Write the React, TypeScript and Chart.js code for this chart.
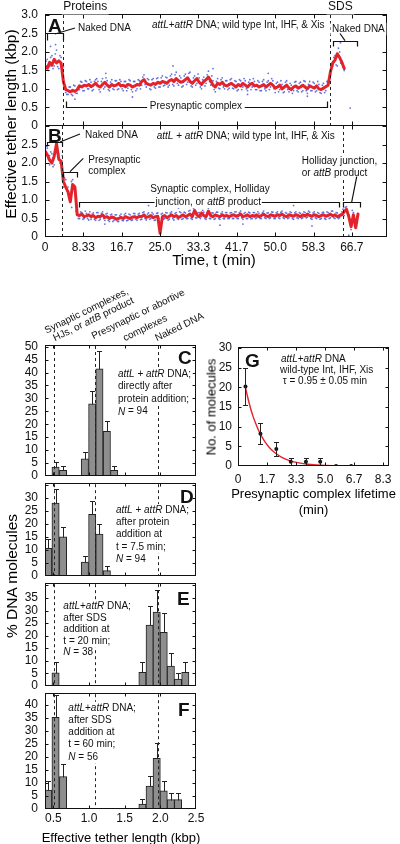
import React, { useEffect, useRef } from "react";
import { Chart, registerables } from "chart.js";
Chart.register(...registerables);

const FONT = '"Liberation Sans", Arial, Helvetica, sans-serif';
const INK = "#111";
const RED = "#e3232b";
const BLUE = "rgba(70, 90, 215, 0.85)";
const BAR = "#8e8e8e";
Chart.defaults.font.family = FONT;
Chart.defaults.color = INK;

// ================= Panels A & B : tether length traces =================
const traceStepMin = 0.5; // red trace & blueA2/blueB2 sampled every 0.5 min from t = 0
const blueOffsetMin = 0.25; // blueA1/blueB1 sampled every 0.5 min from t = 0.25

const redA = [
  1.62, 1.56, 1.72, 1.64, 1.8, 1.7, 1.76, 1.7, 1.2, 0.98,
  0.95, 0.92, 0.96, 0.93, 0.98, 1.08, 1.05, 1.1, 1.08, 1.12,
  1.06, 1.1, 1.15, 1.08, 1.05, 1.12, 1.18, 1.1, 1.05, 1.12,
  1.08, 1.1, 1.15, 1.08, 1.1, 1.06, 1.12, 1.1, 1.05, 1.08,
  1.12, 1.1, 1.2, 1.25, 1.15, 1.12, 1.1, 1.15, 1.12, 1.18,
  1.15, 1.2, 1.18, 1.15, 1.22, 1.25, 1.2, 1.28, 1.22, 1.18,
  1.2, 1.25, 1.3, 1.2, 1.15, 1.22, 1.28, 1.18, 1.12, 1.2,
  1.25, 1.32, 1.22, 1.1, 1.05, 1.15, 1.12, 1.18, 1.1, 1.08,
  1.12, 1.15, 1.1, 1.05, 1.12, 1.08, 1.15, 1.1, 1.05, 1.12,
  1.15, 1.08, 1.1, 1.05, 1.08, 1.12, 1.05, 1.1, 1.15, 1.1,
  1.02, 1.05, 1.1, 1.0, 1.05, 1.1, 1.02, 0.98, 1.05, 1.08,
  1.02, 1.05, 1.1, 1.05, 1.0, 1.08, 1.05, 1.02, 1.08, 1.0,
  0.98, 1.02, 1.06, 1.1, 1.45, 1.7, 1.78, 1.95, 1.85, 1.72, 1.55,
];
const blueA1 = [
  1.75, 1.5, 1.85, 1.55, 1.95, 1.6, 1.9, 1.55, 1.1, 0.85,
  1.05, 0.85, 1.1, 0.88, 1.05, 1.2, 0.95, 1.22, 1.0, 1.25,
  0.95, 1.2, 1.28, 0.98, 1.2, 1.0, 1.3, 0.98, 1.18, 1.0,
  1.22, 0.98, 1.25, 1.0, 1.2, 0.95, 1.25, 0.98, 1.2, 0.95,
  1.25, 1.0, 1.32, 1.12, 1.28, 1.0, 1.25, 1.05, 1.28, 1.05,
  1.3, 1.08, 1.32, 1.05, 1.35, 1.12, 1.38, 1.15, 1.35, 1.05,
  1.35, 1.12, 1.42, 1.08, 1.3, 1.1, 1.4, 1.05, 1.25, 1.08,
  1.38, 1.2, 1.35, 0.98, 1.2, 1.02, 1.25, 1.05, 1.22, 0.98,
  1.25, 1.02, 1.22, 0.95, 1.25, 0.98, 1.28, 1.0, 1.18, 0.98,
  1.28, 0.98, 1.22, 0.95, 1.2, 1.0, 1.18, 0.98, 1.28, 1.0,
  1.15, 0.92, 1.22, 0.9, 1.18, 0.98, 1.15, 0.88, 1.18, 0.95,
  1.15, 0.92, 1.22, 0.95, 1.12, 0.95, 1.18, 0.92, 1.2, 0.9,
  1.1, 0.9, 1.2, 1.25, 1.6, 1.85, 1.65, 2.1, 1.7, 1.6,
];
const blueA2 = [
  1.5, 1.8, 1.6, 1.9, 1.62, 2.05, 1.55, 1.85, 1.6, 0.9,
  0.85, 1.05, 0.82, 1.08, 0.88, 0.98, 1.18, 0.95, 1.2, 1.0,
  1.18, 0.98, 1.25, 1.2, 0.92, 1.28, 1.05, 1.22, 0.95, 1.25,
  0.98, 1.22, 1.0, 1.2, 0.95, 1.2, 1.02, 1.22, 0.92, 1.2,
  1.0, 1.22, 1.1, 1.38, 1.05, 1.25, 0.98, 1.28, 1.02, 1.3,
  1.05, 1.35, 1.1, 1.3, 1.1, 1.4, 1.08, 1.45, 1.1, 1.3,
  1.08, 1.4, 1.18, 1.45, 1.05, 1.35, 1.15, 1.3, 1.0, 1.32,
  1.15, 1.48, 1.1, 1.22, 0.92, 1.28, 1.0, 1.3, 1.0, 1.22,
  1.02, 1.28, 1.0, 1.2, 0.98, 1.22, 1.05, 1.22, 0.95, 1.25,
  1.05, 1.2, 0.98, 1.18, 0.95, 1.25, 0.95, 1.22, 1.05, 1.22,
  0.9, 1.18, 0.98, 1.12, 0.92, 1.22, 0.92, 1.1, 0.95, 1.2,
  0.92, 1.18, 0.95, 1.2, 0.88, 1.2, 0.95, 1.15, 0.95, 1.12,
  0.88, 1.15, 0.95, 1.2, 1.3, 1.62, 1.9, 1.62, 2.0, 1.75, 1.5,
];
const outlierTimesA = [1.2, 2.3, 6.5, 13.2, 19.0, 27.8, 36.5, 44.0, 48.5, 57.0, 64.2, 66.3];
const outlierValuesA = [2.15, 2.2, 0.72, 1.42, 0.78, 1.62, 1.55, 0.85, 1.42, 0.8, 2.25, 0.48];

const redB = [
  2.32, 2.22, 2.08, 2.0, 2.18, 2.52, 2.1, 2.05, 1.5, 1.35,
  1.22, 0.95, 1.42, 1.35, 0.6, 0.58, 0.62, 0.55, 0.57, 0.6,
  0.55, 0.58, 0.52, 0.56, 0.55, 0.6, 0.53, 0.55, 0.5, 0.54,
  0.52, 0.48, 0.5, 0.53, 0.5, 0.55, 0.52, 0.5, 0.54, 0.55,
  0.52, 0.56, 0.55, 0.6, 0.53, 0.55, 0.58, 0.52, 0.55, 0.56,
  0.1, 0.55, 0.58, 0.52, 0.56, 0.6, 0.55, 0.58, 0.53, 0.56,
  0.6, 0.55, 0.58, 0.62, 0.55, 0.72, 0.6, 0.55, 0.65, 0.58,
  0.55, 0.7, 0.58, 0.55, 0.6, 0.57, 0.55, 0.6, 0.56, 0.58,
  0.55, 0.58, 0.6, 0.56, 0.58, 0.62, 0.55, 0.57, 0.6, 0.55,
  0.58, 0.56, 0.6, 0.55, 0.58, 0.62, 0.57, 0.55, 0.6, 0.58,
  0.56, 0.6, 0.58, 0.62, 0.57, 0.55, 0.6, 0.58, 0.56, 0.6,
  0.58, 0.55, 0.6, 0.57, 0.62, 0.58, 0.56, 0.6, 0.58, 0.55,
  0.58, 0.6, 0.56, 0.58, 0.62, 0.57, 0.6, 0.55, 0.58, 0.6,
  0.68, 0.75, 0.55, 0.28, 0.6, 0.25, 0.62,
];
const blueB1 = [
  2.45, 2.1, 2.3, 1.9, 2.35, 2.3, 2.0, 2.2, 1.6, 1.25,
  1.15, 1.5, 1.3, 0.7, 0.5, 0.68, 0.48, 0.7, 0.5, 0.68,
  0.62, 0.48, 0.66, 0.45, 0.64, 0.5, 0.62, 0.45, 0.6, 0.42,
  0.6, 0.42, 0.58, 0.45, 0.6, 0.44, 0.62, 0.45, 0.64, 0.48,
  0.62, 0.47, 0.66, 0.5, 0.62, 0.48, 0.66, 0.45, 0.64, 0.5,
  0.62, 0.48, 0.66, 0.46, 0.65, 0.5, 0.64, 0.5, 0.68, 0.48,
  0.67, 0.5, 0.7, 0.5, 0.78, 0.52, 0.66, 0.5, 0.72, 0.5,
  0.66, 0.5, 0.65, 0.48, 0.67, 0.5, 0.64, 0.5, 0.66, 0.5,
  0.65, 0.5, 0.68, 0.5, 0.66, 0.52, 0.64, 0.5, 0.67, 0.49,
  0.66, 0.5, 0.68, 0.5, 0.66, 0.52, 0.65, 0.5, 0.68, 0.5,
  0.65, 0.52, 0.67, 0.52, 0.66, 0.5, 0.68, 0.5, 0.65, 0.52,
  0.66, 0.5, 0.68, 0.52, 0.7, 0.5, 0.65, 0.52, 0.66, 0.48,
  0.66, 0.5, 0.68, 0.5, 0.7, 0.52, 0.66, 0.5, 0.62, 0.75, 0.8, 0.65, 0.35, 0.72, 0.3,
];
const blueB2 = [
  2.15, 2.4, 2.2, 2.25, 1.95, 2.6, 2.25, 1.95, 1.35, 1.55,
  1.35, 1.05, 1.55, 1.25, 0.68, 0.5, 0.66, 0.5, 0.64, 0.46,
  0.48, 0.65, 0.45, 0.66, 0.48, 0.68, 0.45, 0.64, 0.42, 0.62,
  0.45, 0.6, 0.42, 0.62, 0.44, 0.64, 0.45, 0.6, 0.46, 0.63,
  0.45, 0.64, 0.48, 0.68, 0.46, 0.65, 0.5, 0.62, 0.46, 0.65,
  0.3, 0.64, 0.5, 0.65, 0.48, 0.68, 0.46, 0.66, 0.48, 0.66,
  0.5, 0.65, 0.5, 0.72, 0.48, 0.82, 0.52, 0.66, 0.55, 0.67,
  0.48, 0.78, 0.5, 0.65, 0.5, 0.67, 0.48, 0.68, 0.49, 0.66,
  0.5, 0.66, 0.5, 0.68, 0.5, 0.7, 0.48, 0.66, 0.5, 0.65,
  0.5, 0.66, 0.52, 0.64, 0.5, 0.7, 0.5, 0.65, 0.52, 0.67,
  0.5, 0.68, 0.5, 0.7, 0.5, 0.64, 0.52, 0.66, 0.48, 0.68,
  0.5, 0.64, 0.52, 0.66, 0.54, 0.67, 0.48, 0.68, 0.5, 0.64,
  0.5, 0.67, 0.48, 0.66, 0.52, 0.7, 0.5, 0.65, 0.52, 0.68, 0.58, 0.82, 0.6, 0.2, 0.66, 0.3,
];
const outlierTimesB = [1.0, 2.8, 5.8, 13.0, 22.5, 29.0, 38.0, 43.0, 47.0, 54.0, 58.0, 66.0];
const outlierValuesB = [1.95, 2.7, 0.8, 0.35, 0.85, 0.78, 0.32, 0.35, 0.82, 0.85, 0.3, 0.05];

const eventTimesA = [3.85, 62.0]; // proteins added, SDS added
const eventTimesB = [3.63, 64.8];
const timeMax = 74.3;
const timeTicks = [0, 8.333, 16.667, 25, 33.333, 41.667, 50, 58.333, 66.667];
const timeTickLabels = ["0", "8.33", "16.7", "25.0", "33.3", "41.7", "50.0", "58.3", "66.7"];
const tetherTicks = [0, 0.5, 1, 1.5, 2, 2.5, 3];
const tetherTickLabels = ["0", "0.5", "1.0", "1.5", "2.0", "2.5", "3.0"];
const tetherTickLabelsB = ["0", "0.5", "1.0", "1.5", "2.0", "2.5", ""];

// ================= Panels C–F : histograms =================
const binsC = [0.531, 0.636, 0.942, 1.045, 1.146, 1.25, 1.353];
const pctC = [3.4, 2.1, 6.6, 27.9, 41.5, 17.2, 2.1];
const errC = [1.9, 1.6, 2.6, 5.1, 6.7, 4.0, 1.6];

const binsD = [0.428, 0.531, 0.636, 0.942, 1.045, 1.146, 1.25];
const pctD = [10.6, 27.9, 15.0, 5.3, 23.6, 16.0, 2.0];
const errD = [3.6, 5.4, 3.7, 2.2, 5.1, 4.0, 1.8];

const binsE = [0.531, 1.749, 1.85, 1.949, 2.047, 2.147, 2.248, 2.35];
const pctE = [5.2, 5.4, 24.2, 29.4, 21.3, 7.9, 2.7, 5.4];
const errE = [4.3, 4.1, 7.6, 8.6, 7.7, 5.0, 2.5, 4.1];

const binsF = [0.428, 0.531, 0.636, 1.749, 1.85, 1.949, 2.047, 2.147, 2.248];
const pctF = [7.3, 35.3, 12.5, 1.9, 8.8, 19.5, 7.0, 3.6, 3.6];
const errF = [3.3, 8.7, 4.8, 1.8, 4.0, 6.0, 3.6, 2.4, 2.4];

const stateLengths = [0.513, 1.084, 1.963]; // synaptic, presynaptic, naked DNA
const kbpMin = 0.383;
const kbpMax = 2.5;
const kbpTicks = [0.5, 1.0, 1.5, 2.0, 2.5];
const kbpTickLabels = ["0.5", "1.0", "1.5", "2.0", "2.5"];
const pctTicks = [0, 5, 10, 15, 20, 25, 30, 35, 40, 45, 50];

// ================= Panel G : lifetime distribution =================
const lifetimeBins = [0.43, 1.29, 2.2, 3.03, 3.9, 4.72, 5.63, 6.5];
const lifetimeCounts = [20.2, 8.2, 4.3, 1.1, 1.1, 1.1, 0, 0];
const lifetimeErr = [4.6, 2.7, 1.7, 0.9, 0.9, 0.9, 0, 0];
const fitTimes = [0.43, 0.55, 0.7, 0.85, 1.0, 1.2, 1.4, 1.6, 1.8, 2.0, 2.3, 2.6, 3.0, 3.5, 4.0, 4.5, 5.0, 5.5, 6.0, 6.5];
const fitCounts = [20.0, 17.6, 15.0, 12.8, 11.0, 8.9, 7.2, 5.8, 4.7, 3.8, 2.8, 2.0, 1.3, 0.8, 0.46, 0.28, 0.16, 0.1, 0.06, 0.03];
const lifeTicks = [0, 1.667, 3.333, 5, 6.667, 8.333];
const lifeTickLabels = ["0", "1.7", "3.3", "5.0", "6.7", "8.3"];
const countTicks = [0, 5, 10, 15, 20, 25, 30];

// ================= helpers =================
type Run = [string, boolean?];
type Ann =
  | { k: "text"; x: number; y: number; runs: Run[]; size?: number; bold?: boolean; align?: string; baseline?: string; dy?: number; angle?: number }
  | { k: "line"; x1: number; y1: number; x2: number; y2: number }
  | { k: "bracket"; x1: number; x2: number; y: number; y2: number; gap?: number[] };

const txt = (x: number, y: number, runs: Run[], o: any = {}): Ann => ({ k: "text", x, y, runs, ...o });
const ln = (x1: number, y1: number, x2: number, y2: number): Ann => ({ k: "line", x1, y1, x2, y2 });
const br = (x1: number, x2: number, y: number, y2: number, gap?: number[]): Ann => ({ k: "bracket", x1, x2, y, y2, gap });
const block = (x: number, y: number, lh: number, lines: Run[][]): Ann[] =>
  lines.map((runs, i) => txt(x, y, runs, { dy: i * lh }));

function drawRich(ctx: any, a: any, x: number, y: number) {
  const size = a.size ?? 10;
  const fonts = a.runs.map((r: Run) => `${r[1] ? "italic " : ""}${a.bold ? "bold " : ""}${size}px ${FONT}`);
  const widths = a.runs.map((r: Run, i: number) => {
    ctx.font = fonts[i];
    return ctx.measureText(r[0]).width;
  });
  const total = widths.reduce((s: number, w: number) => s + w, 0);
  ctx.save();
  ctx.translate(x, y);
  if (a.angle) ctx.rotate((a.angle * Math.PI) / 180);
  ctx.textAlign = "left";
  const baseline = a.baseline ?? "middle";
  ctx.textBaseline = baseline;
  let cx = a.align === "center" ? -total / 2 : 0;
  if (baseline === "middle" && !a.angle) {
    // text sits on a white label box, which hides dashed guides behind it
    ctx.save();
    ctx.fillStyle = "#fff";
    ctx.fillRect(cx - 1.5, -size * 0.62, total + 3, size * 1.24);
    ctx.restore();
  }
  a.runs.forEach((r: Run, i: number) => {
    ctx.font = fonts[i];
    ctx.fillText(r[0], cx, 0);
    cx += widths[i];
  });
  ctx.restore();
}

function overlayPlugin(anns: Ann[]) {
  return {
    id: "overlay",
    afterDraw(chart: any) {
      const ctx = chart.ctx;
      const xs = chart.scales.x, ys = chart.scales.y;
      const X = (v: number) => xs.getPixelForValue(v);
      const Y = (v: number) => ys.getPixelForValue(v);
      ctx.save();
      ctx.strokeStyle = INK;
      ctx.fillStyle = INK;
      ctx.lineWidth = 1.2;
      for (const a of anns as any[]) {
        if (a.k === "line") {
          ctx.beginPath();
          ctx.moveTo(X(a.x1), Y(a.y1));
          ctx.lineTo(X(a.x2), Y(a.y2));
          ctx.stroke();
        } else if (a.k === "bracket") {
          const x1 = Math.round(X(a.x1)) + 0.5, x2 = Math.round(X(a.x2)) + 0.5;
          const y = Math.round(Y(a.y)) + 0.5, y2 = Math.round(Y(a.y2)) + 0.5;
          ctx.beginPath();
          ctx.moveTo(x1, y2);
          ctx.lineTo(x1, y);
          if (a.gap) {
            ctx.lineTo(X(a.gap[0]), y);
            ctx.moveTo(X(a.gap[1]), y);
          }
          ctx.lineTo(x2, y);
          ctx.lineTo(x2, y2);
          ctx.stroke();
        } else {
          drawRich(ctx, a, X(a.x), Y(a.y) + (a.dy || 0));
        }
      }
      ctx.restore();
    },
  };
}

function framePlugin(tickLen = 4) {
  return {
    id: "frame",
    afterDraw(chart: any) {
      const { ctx, chartArea: a } = chart;
      const xs = chart.scales.x, ys = chart.scales.y;
      const L = Math.round(a.left) + 0.5, R = Math.round(a.right) - 0.5;
      const T = Math.round(a.top) - 0.5, B = Math.round(a.bottom) - 0.5;
      ctx.save();
      ctx.strokeStyle = INK;
      ctx.lineWidth = 1;
      ctx.strokeRect(L, T, R - L, B - T);
      ctx.beginPath();
      for (const t of xs.ticks) {
        const p = Math.round(xs.getPixelForValue(t.value)) + 0.5;
        if (p < L + 1 || p > R - 1) continue;
        ctx.moveTo(p, B); ctx.lineTo(p, B - tickLen);
        ctx.moveTo(p, T); ctx.lineTo(p, T + tickLen);
      }
      for (const t of ys.ticks) {
        const p = Math.round(ys.getPixelForValue(t.value)) + 0.5;
        if (p < T + 1 || p > B - 1) continue;
        ctx.moveTo(L, p); ctx.lineTo(L + tickLen, p);
        ctx.moveTo(R, p); ctx.lineTo(R - tickLen, p);
      }
      ctx.stroke();
      ctx.restore();
    },
  };
}

function vlinePlugin(values: number[]) {
  return {
    id: "vlines",
    afterDatasetsDraw(chart: any) {
      const { ctx, chartArea: a } = chart;
      const xs = chart.scales.x;
      ctx.save();
      ctx.strokeStyle = "#222";
      ctx.lineWidth = 1;
      ctx.setLineDash([3, 3]);
      ctx.beginPath();
      for (const v of values) {
        const p = Math.round(xs.getPixelForValue(v)) + 0.5;
        ctx.moveTo(p, a.top);
        ctx.lineTo(p, a.bottom);
      }
      ctx.stroke();
      ctx.restore();
    },
  };
}

function errorPlugin(xv: number[], yv: number[], ev: number[], symmetric: boolean, cap: number) {
  return {
    id: "errbars",
    afterDatasetsDraw(chart: any) {
      const { ctx, chartArea: a } = chart;
      const xs = chart.scales.x, ys = chart.scales.y;
      ctx.save();
      ctx.beginPath();
      ctx.rect(a.left, a.top, a.right - a.left, a.bottom - a.top);
      ctx.clip();
      ctx.strokeStyle = "#222";
      ctx.lineWidth = 1;
      ctx.beginPath();
      xv.forEach((x, i) => {
        const e = ev[i];
        if (!e) return;
        const px = Math.round(xs.getPixelForValue(x)) + 0.5;
        const top = Math.round(ys.getPixelForValue(yv[i] + e)) + 0.5;
        const bot = Math.round(ys.getPixelForValue(symmetric ? yv[i] - e : yv[i])) + 0.5;
        ctx.moveTo(px, bot);
        ctx.lineTo(px, top);
        ctx.moveTo(px - cap, top);
        ctx.lineTo(px + cap, top);
        if (symmetric) {
          ctx.moveTo(px - cap, bot);
          ctx.lineTo(px + cap, bot);
        }
      });
      ctx.stroke();
      ctx.restore();
    },
  };
}

function axis(o: { min: number; max: number; ticks: number[]; labels: string[] | null; size: number; horizontal: boolean; pad: number }) {
  return {
    type: "linear",
    position: o.horizontal ? "bottom" : "left",
    min: o.min,
    max: o.max,
    bounds: "data",
    grid: { display: false, drawTicks: false },
    border: { display: false },
    afterBuildTicks: (s: any) => {
      s.ticks = o.ticks.map((v) => ({ value: v }));
    },
    afterFit: (s: any) => {
      if (o.horizontal) s.height = o.size;
      else s.width = o.size;
    },
    ticks: {
      display: !!o.labels,
      padding: o.pad,
      autoSkip: false,
      maxRotation: 0,
      color: INK,
      font: { size: 12, family: FONT },
      callback: (_v: any, i: number) => (o.labels ? o.labels[i] : ""),
    },
  };
}

const common = {
  animation: false,
  responsive: false,
  devicePixelRatio: 1,
  events: [],
  plugins: { legend: { display: false }, tooltip: { enabled: false } },
};

const pts = (xs: number[], ys: number[]) => xs.map((x, i) => ({ x, y: ys[i] }));
const grid = (vals: number[], offset: number) => vals.map((v, i) => ({ x: offset + i * traceStepMin, y: v }));
const dots = (data: any[]) => ({
  data,
  showLine: false,
  pointRadius: 0.9,
  pointBackgroundColor: BLUE,
  pointBorderWidth: 0,
});

function traceConfig(red: number[], b1: number[], b2: number[], ot: number[], ov: number[], events: number[], pad: any, xH: number, showX: boolean, yLabels: string[], anns: Ann[]) {
  return {
    type: "line",
    data: {
      datasets: [
        { data: grid(red, 0), borderColor: RED, borderWidth: 3, pointRadius: 0, tension: 0, borderJoinStyle: "round", borderCapStyle: "round" },
        dots(grid(b1, blueOffsetMin)),
        dots(grid(b2, 0)),
        dots(pts(ot, ov)),
      ],
    },
    options: {
      ...common,
      layout: { padding: pad },
      scales: {
        x: axis({ min: 0, max: timeMax, ticks: timeTicks, labels: showX ? timeTickLabels : null, size: xH, horizontal: true, pad: 3 }),
        y: axis({ min: 0, max: 3, ticks: tetherTicks, labels: yLabels, size: 45, horizontal: false, pad: 7 }),
      },
    },
    plugins: [vlinePlugin(events), framePlugin(), overlayPlugin(anns)],
  };
}

function histConfig(bins: number[], pct: number[], err: number[], yMax: number, hideTop: boolean, pad: any, xH: number, showX: boolean, anns: Ann[]) {
  const ticks = pctTicks.filter((v) => v <= yMax);
  const labels = ticks.map((v, i) => (hideTop && i === ticks.length - 1 ? "" : String(v)));
  return {
    type: "bar",
    data: {
      datasets: [
        {
          data: pts(bins, pct),
          backgroundColor: BAR,
          borderColor: "#222",
          borderWidth: 1,
          barThickness: 7.3,
        },
      ],
    },
    options: {
      ...common,
      layout: { padding: pad },
      scales: {
        x: { ...axis({ min: kbpMin, max: kbpMax, ticks: kbpTicks, labels: showX ? kbpTickLabels : null, size: xH, horizontal: true, pad: 2 }), offset: false },
        y: axis({ min: 0, max: yMax, ticks, labels, size: 45, horizontal: false, pad: 7 }),
      },
    },
    plugins: [errorPlugin(bins, pct, err, false, 2.5), vlinePlugin(stateLengths), framePlugin(3), overlayPlugin(anns)],
  };
}

// ================= annotations (data coordinates) =================
const attLR = (spaced: boolean, rest: string): Run[] => [["attL", true], [spaced ? " + " : "+"], ["attR", true], [rest]];

const annA: Ann[] = [
  txt(3.95, 3.216, [["Proteins"]], { size: 12 }),
  txt(61.5, 3.216, [["SDS"]], { size: 12 }),
  txt(0.65, 2.55, [["A"]], { size: 19, bold: true, baseline: "alphabetic" }),
  br(0.37, 3.85, 2.5, 2.324),
  ln(2.17, 2.486, 6.52, 2.649),
  txt(7.17, 2.64, [["Naked DNA"]]),
  txt(23.25, 2.73, attLR(false, " DNA; wild type Int, IHF, & Xis")),
  txt(62.35, 2.62, [["Naked DNA"]]),
  br(62.5, 67.7, 2.305, 2.149),
  ln(65.17, 2.305, 64.09, 2.5),
  br(4.56, 61.2, 0.522, 0.662, [22.2, 43.4]),
  txt(32.8, 0.522, [["Presynaptic complex"]], { align: "center" }),
];

const annB: Ann[] = [
  txt(0.65, 2.57, [["B"]], { size: 19, bold: true, baseline: "alphabetic" }),
  br(0.37, 3.63, 2.576, 2.459),
  ln(3.26, 2.568, 7.6, 2.784),
  txt(8.69, 2.757, [["Naked DNA"]]),
  txt(24.27, 2.711, attLR(true, " DNA; wild type Int, IHF, & Xis")),
  txt(9.41, 2.081, [["Presynaptic"]]),
  txt(9.41, 1.765, [["complex"]]),
  br(4.0, 6.9, 1.765, 1.622),
  ln(5.43, 1.765, 8.32, 2.127),
  txt(35.85, 1.3, [["Synaptic complex, Holliday"]], { align: "center" }),
  txt(35.48, 0.946, [["junction, or "], ["attB", true], [" product"]], { align: "center" }),
  br(7.43, 63.9, 0.946, 0.81, [23.8, 47.1]),
  txt(55.77, 2.035, [["Holliday junction,"]]),
  txt(55.77, 1.722, [["or "], ["attB", true], [" product"]]),
  br(64.8, 68.5, 0.946, 0.81),
  ln(66.63, 0.946, 67.72, 1.63),
];

const annC: Ann[] = [
  txt(0.405, 55.07, [["Synaptic complexes,"]], { angle: -26, baseline: "alphabetic" }),
  txt(0.524, 52.13, [["HJs, or "], ["attB", true], [" product"]], { angle: -26, baseline: "alphabetic" }),
  txt(1.063, 52.87, [["Presynaptic or abortive"]], { angle: -26, baseline: "alphabetic" }),
  txt(1.505, 52.13, [["complexes"]], { angle: -26, baseline: "alphabetic" }),
  txt(1.953, 52.13, [["Naked DNA"]], { angle: -26, baseline: "alphabetic" }),
  txt(2.247, 43.32, [["C"]], { size: 19, bold: true, baseline: "alphabetic" }),
  ...block(1.406, 39.47, 12.6, [attLR(true, " DNA;"), [["directly after"]], [["protein addition;"]], [["N", true], [" = 94"]]]),
];
const annD: Ann[] = [
  txt(2.276, 27.97, [["D"]], { size: 19, bold: true, baseline: "alphabetic" }),
  ...block(1.378, 25.19, 12.2, [attLR(true, " DNA;"), [["after protein"]], [["addition at"]], [["t = 7.5 min;"]], [["N", true], [" = 94"]]]),
];
const annE: Ann[] = [
  txt(2.234, 32.14, [["E"]], { size: 19, bold: true, baseline: "alphabetic" }),
  ...block(0.64, 31.7, 11.6, [attLR(false, " DNA;"), [["after SDS"]], [["addition at"]], [["t = 20 min;"]], [["N", true], [" = 38"]]]),
];
const annF: Ann[] = [
  txt(2.248, 35.87, [["F"]], { size: 19, bold: true, baseline: "alphabetic" }),
  ...block(0.71, 38.88, 12.2, [attLR(false, " DNA;"), [["after SDS"]], [["addition at"]], [["t = 60 min;"]], [["N", true], [" = 56"]]]),
];
const annG: Ann[] = [
  txt(0.4, 25.17, [["G"]], { size: 19, bold: true, baseline: "alphabetic" }),
  txt(2.47, 27.13, attLR(false, " DNA")),
  txt(2.41, 24.23, [["wild-type Int, IHF, Xis"]]),
  txt(2.57, 21.43, [["\u03c4 = 0.95 \u00b1 0.05 min"]]),
];

function lifetimeConfig() {
  return {
    type: "line",
    data: {
      datasets: [
        { data: pts(lifetimeBins, lifetimeCounts), showLine: false, pointRadius: 2, pointBackgroundColor: "#111", pointBorderWidth: 0 },
        { data: pts(fitTimes, fitCounts), borderColor: RED, borderWidth: 1.4, pointRadius: 0, tension: 0.3 },
      ],
    },
    options: {
      ...common,
      layout: { padding: { left: 0, right: 11, top: 18, bottom: 0 } },
      scales: {
        x: axis({ min: 0, max: 8.67, ticks: lifeTicks, labels: lifeTickLabels, size: 64, horizontal: true, pad: 6 }),
        y: axis({ min: 0, max: 30, ticks: countTicks, labels: countTicks.map(String), size: 38, horizontal: false, pad: 6 }),
      },
    },
    plugins: [errorPlugin(lifetimeBins, lifetimeCounts, lifetimeErr, true, 2.5), framePlugin(3), overlayPlugin(annG)],
  };
}

// ================= components =================
function ChartCanvas({ left, top, width, height, make }: any) {
  const ref = useRef<HTMLCanvasElement>(null);
  useEffect(() => {
    const chart = new Chart(ref.current as any, make() as any);
    return () => chart.destroy();
  }, []);
  return <canvas ref={ref} width={width} height={height} style={{ position: "absolute", left, top, width, height }} />;
}

function Title({ x, y, text, size, rotate }: any) {
  return (
    <div
      style={{
        position: "absolute",
        left: x,
        top: y,
        transform: `translate(-50%, -50%)${rotate ? " rotate(-90deg)" : ""}`,
        font: `${size}px ${FONT}`,
        lineHeight: 1,
        whiteSpace: "nowrap",
        color: "#000",
      }}
    >
      {text}
    </div>
  );
}

export default function App() {
  return (
    <div style={{ position: "absolute", left: 0, top: 0, width: 400, height: 844, background: "#fff", overflow: "hidden" }}>
      <ChartCanvas left={0} top={0} width={400} height={140}
        make={() => traceConfig(redA, blueA1, blueA2, outlierTimesA, outlierValuesA, eventTimesA, { left: 0, right: 13, top: 15, bottom: 0 }, 14, false, tetherTickLabels, annA)} />
      <ChartCanvas left={0} top={110} width={400} height={160}
        make={() => traceConfig(redB, blueB1, blueB2, outlierTimesB, outlierValuesB, eventTimesB, { left: 0, right: 13, top: 16, bottom: 0 }, 33, true, tetherTickLabelsB, annB)} />
      <ChartCanvas left={0} top={280} width={215} height={210}
        make={() => histConfig(binsC, pctC, errC, 50.3, false, { left: 0, right: 19, top: 66, bottom: 0 }, 7, false, annC)} />
      <ChartCanvas left={0} top={470} width={215} height={120}
        make={() => histConfig(binsD, pctD, errD, 35.2, true, { left: 0, right: 19, top: 13, bottom: 0 }, 12, false, annD)} />
      <ChartCanvas left={0} top={570} width={215} height={130}
        make={() => histConfig(binsE, pctE, errE, 40.5, true, { left: 0, right: 19, top: 8, bottom: 0 }, 13, false, annE)} />
      <ChartCanvas left={0} top={680} width={215} height={150}
        make={() => histConfig(binsF, pctF, errF, 44.2, false, { left: 0, right: 19, top: 7, bottom: 0 }, 21, true, annF)} />
      <ChartCanvas left={200} top={330} width={200} height={200} make={lifetimeConfig} />

      <Title x={11} y={124} text="Effective tether length (kbp)" size={15.5} rotate />
      <Title x={214} y={259} text="Time, t (min)" size={15} />
      <Title x={12} y={576} text="% DNA molecules" size={15.5} rotate />
      <Title x={121} y={837} text="Effective tether length (kbp)" size={13} />
      <Title x={210.5} y={407} text="No. of molecules" size={13} rotate />
      <Title x={313.5} y={493} text="Presynaptic complex lifetime" size={13} />
      <Title x={313.5} y={508.5} text="(min)" size={13} />
    </div>
  );
}
